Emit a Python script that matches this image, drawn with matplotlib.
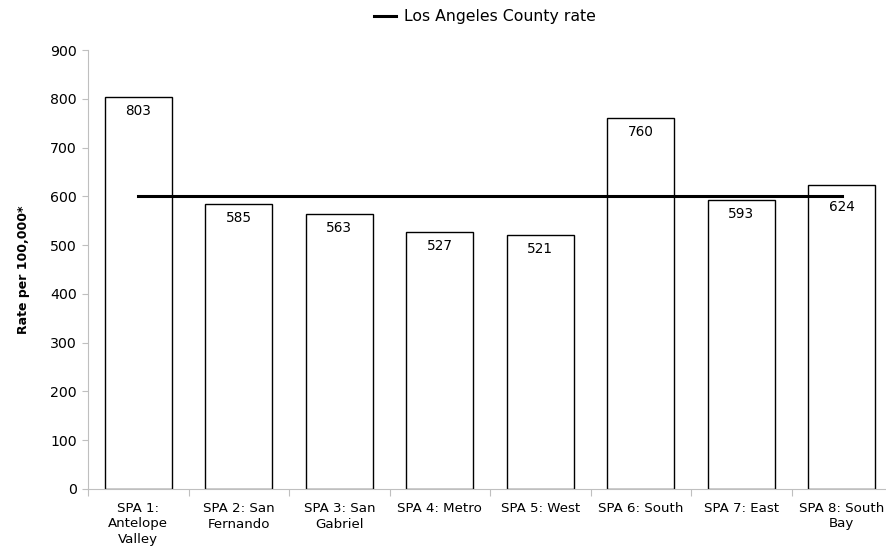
import matplotlib
matplotlib.use("Agg")
import matplotlib.pyplot as plt
import numpy as np

categories = ["SPA 1:\nAntelope\nValley", "SPA 2: San\nFernando", "SPA 3: San\nGabriel",
              "SPA 4: Metro", "SPA 5: West", "SPA 6: South", "SPA 7: East", "SPA 8: South\nBay"]
rates = [803, 585, 563, 527, 521, 760, 593, 624]
county_rate = 600
county_label = "Los Angeles County rate"
y_ticks = [0, 100, 200, 300, 400, 500, 600, 700, 800, 900]

plt.rcParams['font.family'] = ['DejaVu Sans']
fig = plt.figure(figsize=(8.86, 5.5), dpi=100)
ax = fig.add_axes([88/886, 1-489/550, (892-88)/886, (489-50)/550])

x = np.arange(len(categories))
ax.bar(x, rates, width=0.667, color='white', edgecolor='black', linewidth=1.0, zorder=2)
line, = ax.plot(x, [county_rate]*len(x), color='black', linewidth=2.2, zorder=3, label=county_label)

# label offsets in points (style only)
label_offsets = [-10, -10, -10, -10, -10, -10, -10, -16]
for xi, v, off in zip(x, rates, label_offsets):
    ax.annotate(str(v), (xi, v), xytext=(0, off), textcoords='offset points',
                ha='center', va='center', fontsize=9.8, zorder=4)

ax.set_xlim(-0.5, len(categories)-0.5)
ax.set_ylim(0, 900)
ax.set_yticks(y_ticks)
ax.tick_params(axis='y', labelsize=10.2, color='#bfbfbf', length=4, width=0.8, pad=4)
ax.set_xticks(x)
ax.set_xticklabels(categories, fontsize=9.6, linespacing=1.3)
ax.tick_params(axis='x', length=0, pad=9)
ax.set_xticks(np.arange(len(categories)+1)-0.5, minor=True)
ax.tick_params(axis='x', which='minor', length=5, color='#bfbfbf', width=0.8)

for s in ['top', 'right']:
    ax.spines[s].set_visible(False)
for s in ['left', 'bottom']:
    ax.spines[s].set_color('#bfbfbf')
    ax.spines[s].set_linewidth(0.8)

ax.set_ylabel("Rate per 100,000*", fontsize=9, fontweight='bold')
ax.yaxis.set_label_coords(-(88-30)/(892-88), 0.5)

fig.legend(handles=[line], loc='center', bbox_to_anchor=(485/886, 1-17/550), frameon=False,
           fontsize=11.3, handlelength=1.4, handletextpad=0.5)

fig.savefig("out.png", dpi=100)
